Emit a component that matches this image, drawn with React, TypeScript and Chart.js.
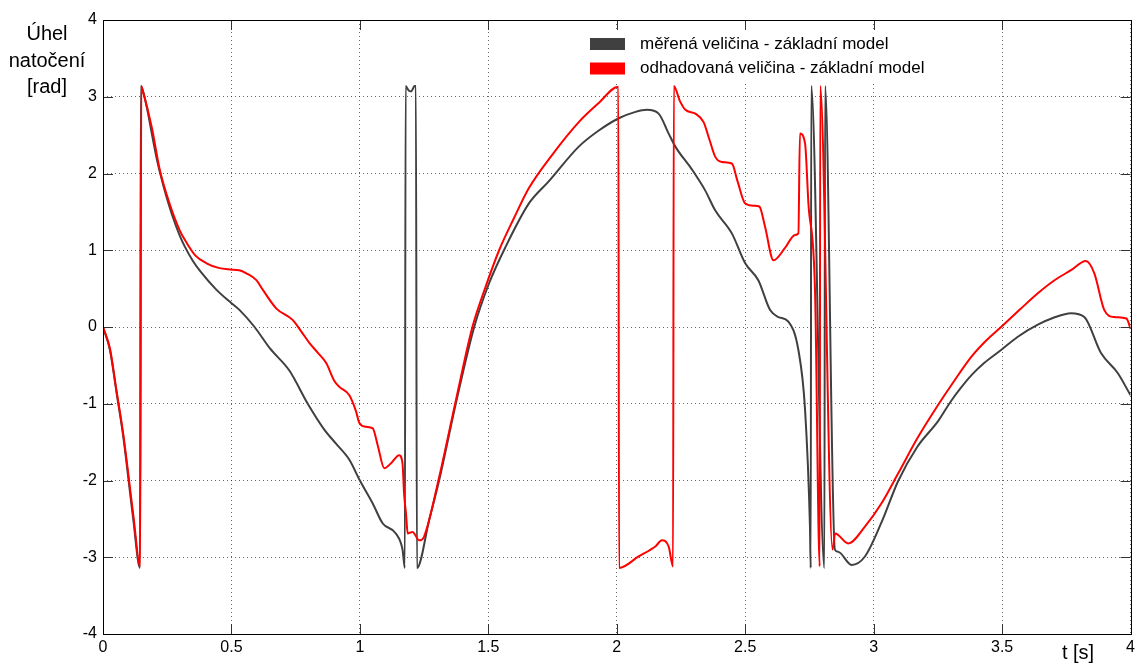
import React, { useEffect, useRef } from 'react';
import { Chart, registerables } from 'chart.js';
Chart.register(...registerables);

// ---- data ----
const measuredT = [0, 0.027, 0.053, 0.079, 0.118, 0.144, 0.147, 0.17, 0.19, 0.21, 0.225, 0.245, 0.27, 0.3, 0.318, 0.35, 0.38, 0.44, 0.5, 0.532, 0.59, 0.65, 0.726, 0.797, 0.86, 0.907, 0.959, 1.0, 1.05, 1.089, 1.14, 1.166, 1.175, 1.178, 1.19, 1.2, 1.213, 1.218, 1.222, 1.27, 1.309, 1.374, 1.445, 1.503, 1.568, 1.658, 1.736, 1.852, 1.93, 2.008, 2.07, 2.118, 2.163, 2.202, 2.228, 2.293, 2.344, 2.383, 2.448, 2.5, 2.551, 2.597, 2.629, 2.668, 2.707, 2.733, 2.752, 2.755, 2.757, 2.808, 2.811, 2.849, 2.862, 2.914, 2.966, 3.03, 3.095, 3.17, 3.25, 3.3, 3.34, 3.38, 3.43, 3.496, 3.56, 3.639, 3.7, 3.768, 3.82, 3.885, 3.95, 4.0];
const measuredV = [0, -0.3, -0.86, -1.43, -2.51, -3.14, 3.14, 2.87, 2.52, 2.18, 1.97, 1.72, 1.45, 1.18, 1.05, 0.86, 0.72, 0.49, 0.31, 0.22, 0.0, -0.28, -0.57, -1.0, -1.33, -1.52, -1.73, -2.0, -2.3, -2.56, -2.69, -2.9, -3.14, 3.14, 3.08, 3.07, 3.14, 3.14, -3.14, -2.51, -1.99, -0.99, 0.0, 0.57, 1.05, 1.61, 1.9, 2.35, 2.56, 2.72, 2.8, 2.83, 2.78, 2.52, 2.35, 2.05, 1.78, 1.52, 1.22, 0.83, 0.61, 0.22, 0.13, 0.07, -0.3, -1.08, -2.6, -3.14, 3.14, -3.14, 3.14, -2.9, -2.93, -3.1, -2.99, -2.55, -2.01, -1.56, -1.23, -0.97, -0.79, -0.63, -0.47, -0.3, -0.13, 0.03, 0.12, 0.18, 0.13, -0.34, -0.6, -0.89];

const estimatedT = [0, 0.027, 0.053, 0.079, 0.118, 0.145, 0.149, 0.153, 0.19, 0.221, 0.26, 0.3, 0.325, 0.36, 0.403, 0.45, 0.493, 0.53, 0.558, 0.597, 0.623, 0.675, 0.739, 0.77, 0.804, 0.84, 0.869, 0.9, 0.92, 0.959, 0.985, 0.998, 1.024, 1.05, 1.07, 1.095, 1.12, 1.153, 1.166, 1.172, 1.18, 1.186, 1.205, 1.231, 1.25, 1.309, 1.374, 1.438, 1.49, 1.542, 1.6, 1.658, 1.75, 1.852, 1.93, 2.006, 2.009, 2.085, 2.15, 2.176, 2.202, 2.219, 2.222, 2.245, 2.267, 2.306, 2.338, 2.36, 2.383, 2.409, 2.448, 2.47, 2.5, 2.535, 2.555, 2.577, 2.61, 2.655, 2.694, 2.707, 2.713, 2.733, 2.746, 2.772, 2.79, 2.792, 2.84, 2.85, 2.901, 2.966, 3.03, 3.095, 3.17, 3.25, 3.31, 3.38, 3.44, 3.496, 3.57, 3.639, 3.7, 3.768, 3.826, 3.859, 3.898, 3.937, 3.984, 4.0];
const estimatedV = [0, -0.28, -0.84, -1.4, -2.45, -3.12, 3.14, 3.1, 2.6, 2.05, 1.6, 1.25, 1.1, 0.93, 0.83, 0.77, 0.75, 0.74, 0.7, 0.61, 0.48, 0.24, 0.09, -0.05, -0.21, -0.35, -0.47, -0.7, -0.78, -0.89, -1.1, -1.25, -1.3, -1.32, -1.55, -1.84, -1.78, -1.67, -1.78, -2.17, -2.45, -2.69, -2.67, -2.78, -2.73, -1.95, -0.95, 0.0, 0.53, 1.0, 1.42, 1.81, 2.25, 2.67, 2.92, 3.13, -3.14, -2.99, -2.86, -2.78, -2.86, -3.12, 3.14, 2.95, 2.83, 2.78, 2.67, 2.45, 2.22, 2.15, 2.13, 1.9, 1.61, 1.58, 1.57, 1.31, 0.87, 1.03, 1.2, 1.22, 2.52, 2.39, 1.61, 0.44, -3.12, 3.14, -2.9, -2.69, -2.82, -2.6, -2.3, -1.91, -1.45, -1.02, -0.72, -0.39, -0.17, 0.0, 0.23, 0.44, 0.6, 0.74, 0.86, 0.7, 0.22, 0.13, 0.11, -0.02];

const xTicks = [0, 0.5, 1, 1.5, 2, 2.5, 3, 3.5, 4];
const yTicks = [-4, -3, -2, -1, 0, 1, 2, 3, 4];
const seriesNames = ['měřená veličina - základní model', 'odhadovaná veličina - základní model'];
const seriesColors = ['#404040', '#ff0000'];
const yTitleLines = ['Úhel', 'natočení', '[rad]'];
const xTitle = 't [s]';

const FONT = '"Liberation Sans", Arial, sans-serif';

const toPoints = (t: number[], v: number[]) => {
  const n = Math.min(t.length, v.length);
  const out: { x: number; y: number }[] = [];
  for (let i = 0; i < n; i++) out.push({ x: t[i], y: v[i] });
  return out;
};

const framePlugin = {
  id: 'frame',
  afterDraw(chart: any) {
    const { ctx, chartArea: a, scales } = chart;
    ctx.save();
    // inside tick marks
    ctx.strokeStyle = '#333';
    ctx.lineWidth = 1;
    const tl = 10;
    ctx.beginPath();
    xTicks.forEach((v) => {
      const px = Math.round(scales.x.getPixelForValue(v)) + 0.5;
      ctx.moveTo(px, a.bottom); ctx.lineTo(px, a.bottom - tl);
      ctx.moveTo(px, a.top); ctx.lineTo(px, a.top + tl);
    });
    yTicks.forEach((v) => {
      const py = Math.round(scales.y.getPixelForValue(v)) + 0.5;
      ctx.moveTo(a.left, py); ctx.lineTo(a.left + tl, py);
      ctx.moveTo(a.right, py); ctx.lineTo(a.right - tl, py);
    });
    ctx.stroke();
    // box
    ctx.strokeStyle = '#000';
    ctx.strokeRect(Math.round(a.left) + 0.5, Math.round(a.top) + 0.5, Math.round(a.right - a.left), Math.round(a.bottom - a.top));

    // legend
    const lx = 590, ly = 38;
    ctx.fillStyle = '#fff';
    ctx.fillRect(lx - 6, 30, 348, 51);
    ctx.font = `17px ${FONT}`;
    ctx.textBaseline = 'middle';
    ctx.textAlign = 'left';
    seriesNames.forEach((name, i) => {
      const y = ly + i * 24.5;
      ctx.fillStyle = seriesColors[i];
      ctx.fillRect(lx, y, 35, 12);
      ctx.fillStyle = '#000';
      ctx.fillText(name, 640, y + 6);
    });

    // axis titles
    ctx.font = `20px ${FONT}`;
    ctx.fillStyle = '#000';
    ctx.textAlign = 'center';
    ctx.textBaseline = 'alphabetic';
    yTitleLines.forEach((s, i) => ctx.fillText(s, 47, 40 + i * 26.5));
    ctx.fillText(xTitle, 1078, 659);
    ctx.restore();
  },
};

export default function App() {
  const ref = useRef<HTMLCanvasElement>(null);
  useEffect(() => {
    document.body.style.margin = '0';
    const chart = new Chart(ref.current!, {
      type: 'line',
      data: {
        datasets: [
          {
            label: seriesNames[0],
            data: toPoints(measuredT, measuredV),
            borderColor: seriesColors[0],
            backgroundColor: seriesColors[0],
            borderWidth: 2,
            pointRadius: 0,
            cubicInterpolationMode: 'monotone',
            order: 1,
          },
          {
            label: seriesNames[1],
            data: toPoints(estimatedT, estimatedV),
            borderColor: seriesColors[1],
            backgroundColor: seriesColors[1],
            borderWidth: 2,
            pointRadius: 0,
            cubicInterpolationMode: 'monotone',
            order: 0,
          },
        ],
      },
      options: {
        animation: false,
        responsive: false,
        layout: { padding: { top: 20, right: 6, left: 0, bottom: 0 } },
        plugins: { legend: { display: false }, tooltip: { enabled: false } },
        scales: {
          x: {
            type: 'linear',
            min: 0,
            max: 4,
            afterBuildTicks: (s: any) => { s.ticks = xTicks.map((v) => ({ value: v })); },
            afterFit: (s: any) => { s.height = 32; },
            ticks: {
              color: '#000',
              font: { family: FONT, size: 16 },
              padding: 4,
              maxRotation: 0,
              autoSkip: false,
              callback: (v: any) => String(v),
            },
            grid: { color: 'rgba(0,0,0,0.6)', lineWidth: 1, drawTicks: false },
            border: { display: false, dash: [1, 3] },
          },
          y: {
            type: 'linear',
            min: -4,
            max: 4,
            afterBuildTicks: (s: any) => { s.ticks = yTicks.map((v) => ({ value: v })); },
            afterFit: (s: any) => { s.width = 103; },
            ticks: {
              color: '#000',
              font: { family: FONT, size: 16 },
              padding: 6,
              autoSkip: false,
              callback: (v: any) => String(v),
            },
            grid: { color: 'rgba(0,0,0,0.6)', lineWidth: 1, drawTicks: false },
            border: { display: false, dash: [1, 3] },
          },
        },
      },
      plugins: [framePlugin],
    } as any);
    return () => chart.destroy();
  }, []);
  return <canvas ref={ref} width={1139} height={666} style={{ display: 'block' }} />;
}
